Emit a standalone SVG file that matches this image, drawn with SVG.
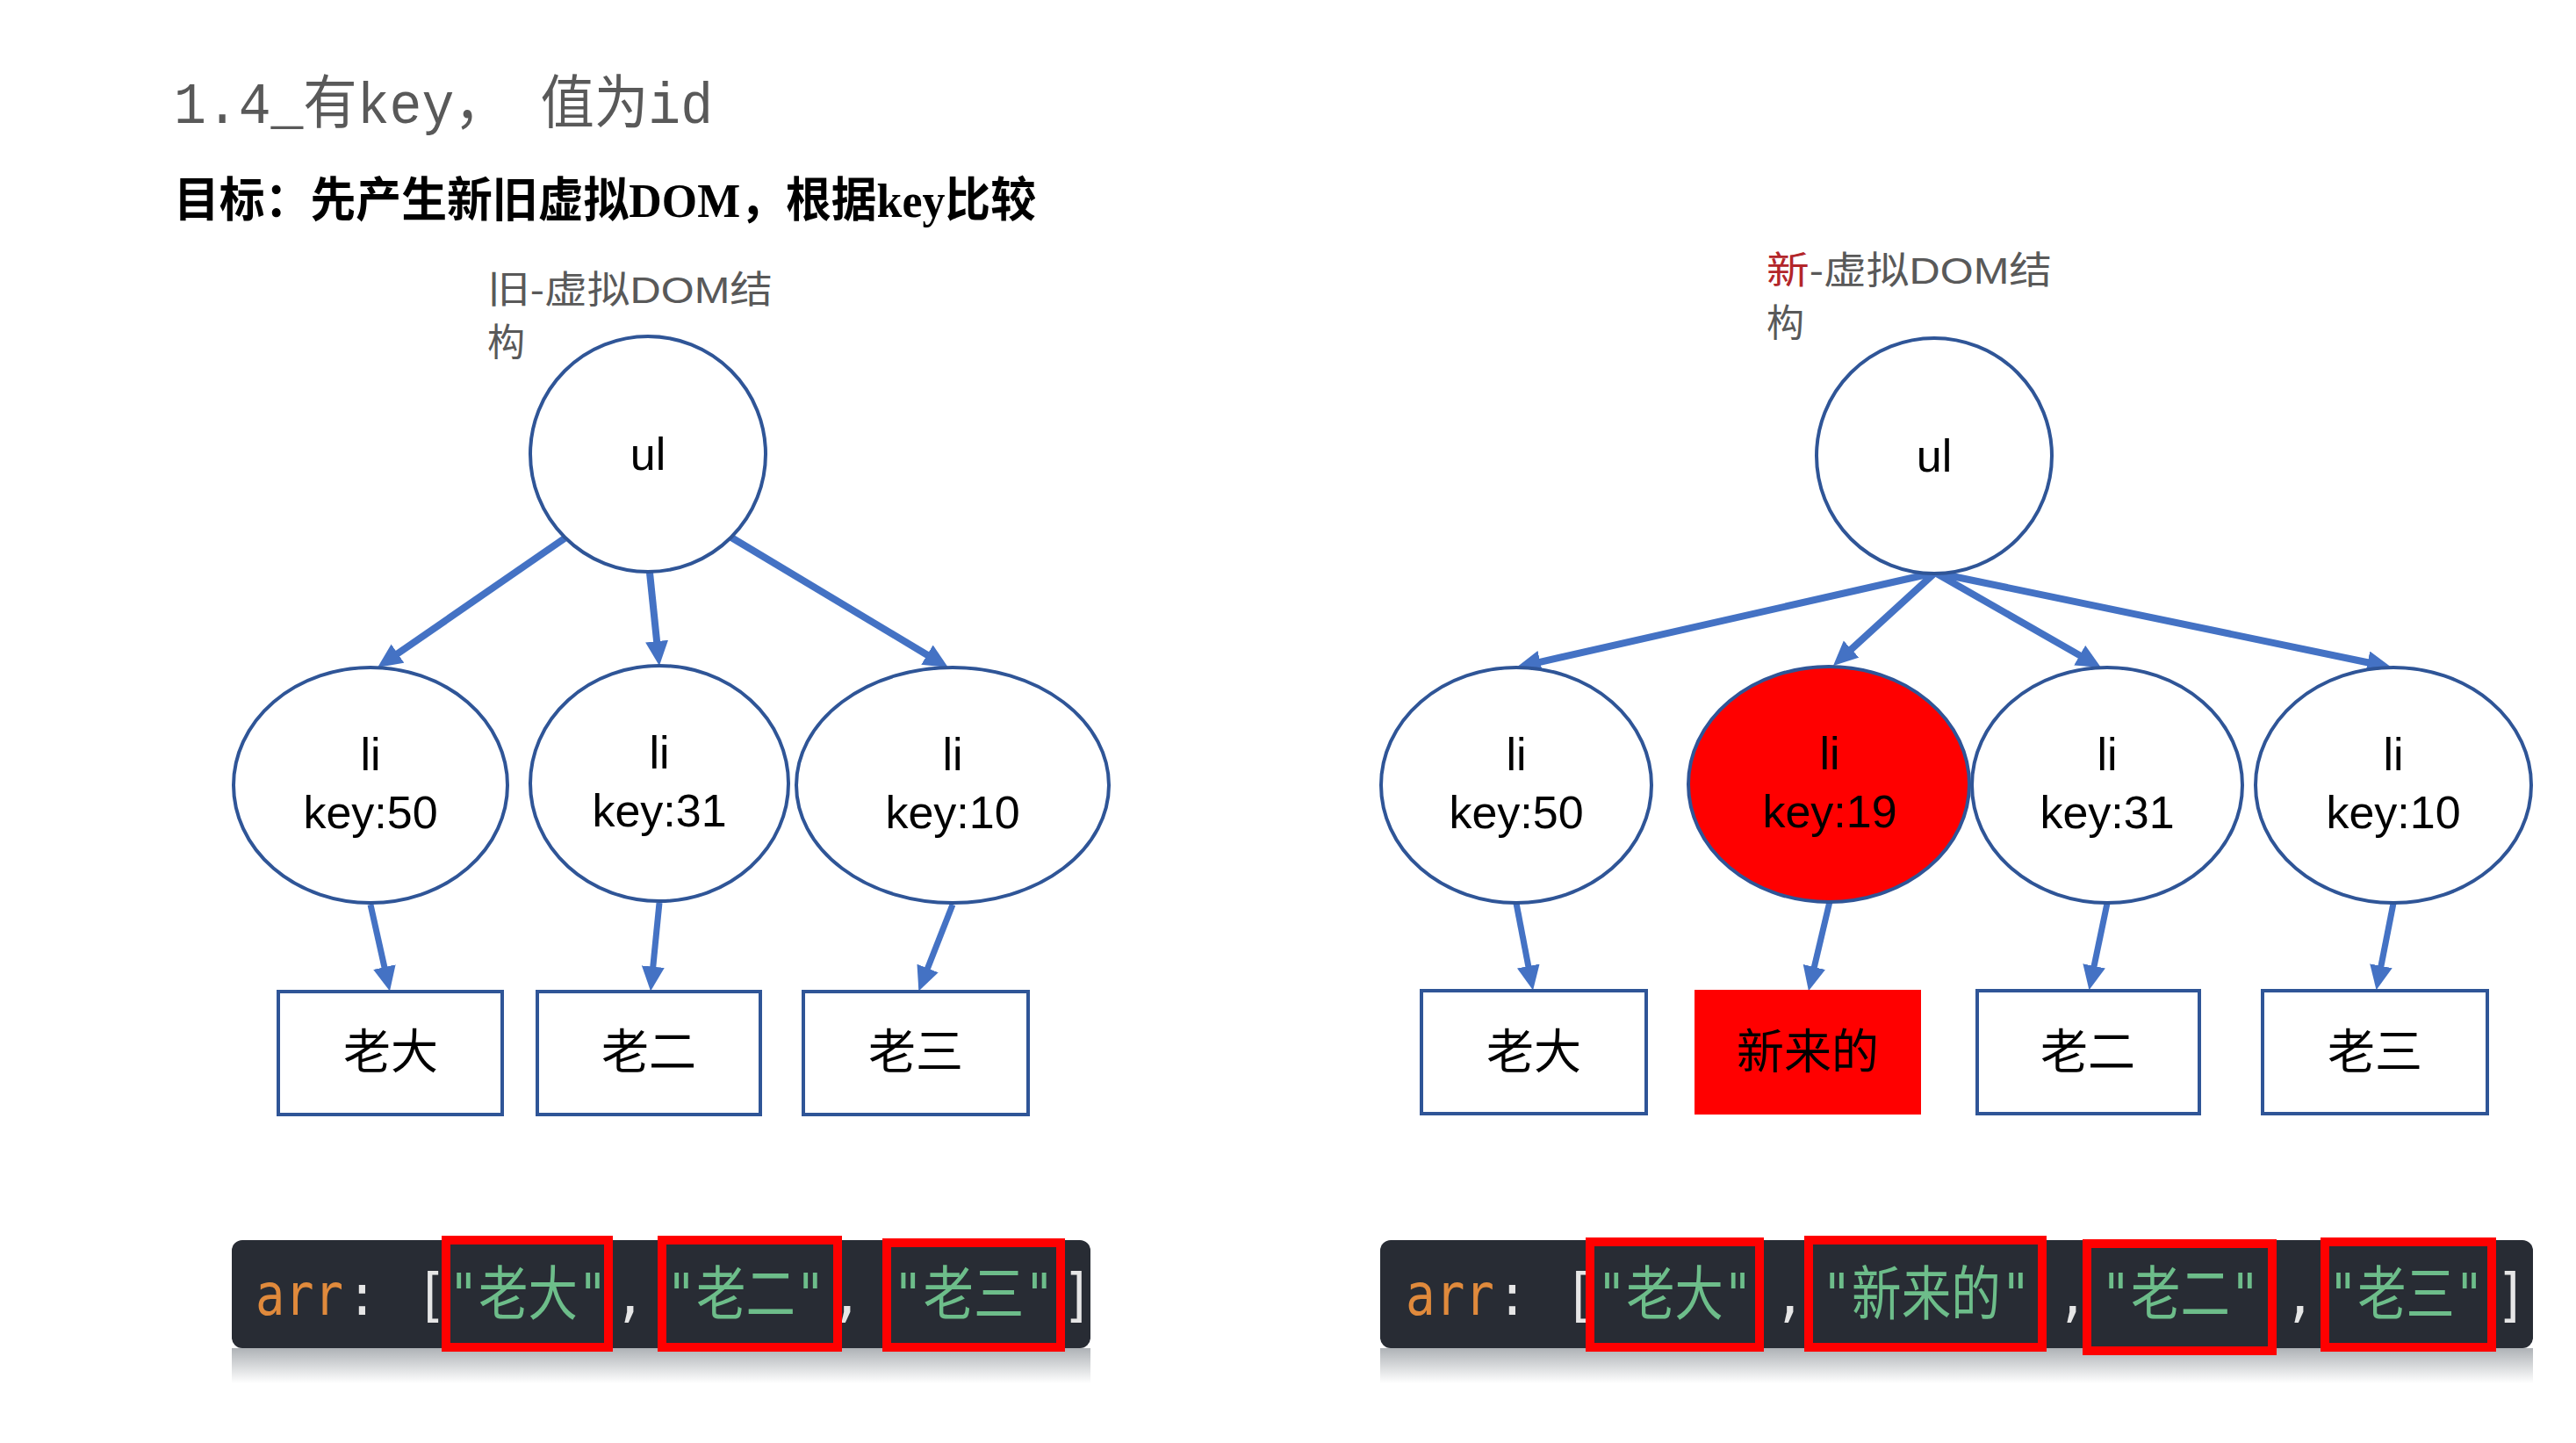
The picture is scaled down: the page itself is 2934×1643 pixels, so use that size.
<svg xmlns="http://www.w3.org/2000/svg" width="2934" height="1643" viewBox="0 0 2934 1643">
<defs>
<marker id="ah" markerUnits="userSpaceOnUse" markerWidth="30" markerHeight="28" refX="6" refY="13" orient="auto">
<path d="M0,0 L28,13 L0,26 z" fill="#4472C4"/>
</marker>
<linearGradient id="shadow" x1="0" y1="0" x2="0" y2="1">
<stop offset="0" stop-color="#aeb2b6"/>
<stop offset="1" stop-color="#ffffff"/>
</linearGradient>
<style>
.title{font-family:"Liberation Mono","Noto Sans CJK SC",monospace;font-size:66px;fill:#595959}
.sub{font-family:"Liberation Serif","Noto Sans CJK SC",serif;font-size:54px;font-weight:bold;fill:#000}
.lbl{font-family:"Liberation Sans","Noto Sans CJK SC",sans-serif;font-size:43px;fill:#595959}
.node{fill:#fff;stroke:#2F5597;stroke-width:4}
.nodered{fill:#FF0000;stroke:#2F5597;stroke-width:4}
.box{fill:#fff;stroke:#2F5597;stroke-width:4}
.boxred{fill:#FF0000;stroke:none}
.t{font-family:"Liberation Sans","Noto Sans CJK SC",sans-serif;font-size:52px;fill:#000;text-anchor:middle}
.tc{font-family:"Noto Sans CJK SC","Liberation Sans",sans-serif;font-size:54px;fill:#000;text-anchor:middle}
.edge{stroke:#4472C4;stroke-width:8;fill:none;marker-end:url(#ah)}
.edge2{stroke:#4472C4;stroke-width:7;fill:none;marker-end:url(#ah)}
.bar{fill:#282C34}
.code{font-family:"DejaVu Sans Mono","Noto Sans CJK SC",monospace;font-size:58px}
.kw{fill:#E08A3C}
.pl{fill:#E6E6E6}
.str{fill:#6DBD8A}
.hl{fill:none;stroke:#FF0000;stroke-width:10}
</style>
</defs>

<g id="title">
<text class="title" x="198" y="140" textLength="614" lengthAdjust="spacingAndGlyphs">1.4_有key， 值为id</text>
<text class="sub" x="198" y="247" textLength="982" lengthAdjust="spacingAndGlyphs">目标：先产生新旧虚拟DOM，根据key比较</text>
</g>

<g id="label-old">
<text class="lbl" x="555" y="345" textLength="325" lengthAdjust="spacingAndGlyphs">旧-虚拟DOM结</text>
<text class="lbl" x="555" y="405">构</text>
</g>
<g id="label-new">
<text class="lbl" x="2012" y="323" textLength="325" lengthAdjust="spacingAndGlyphs"><tspan fill="#B3262A">新</tspan>-虚拟DOM结</text>
<text class="lbl" x="2012" y="383">构</text>
</g>

<g id="connectors">
<line class="edge" x1="643" y1="613" x2="448.1" y2="747.5"/>
<line class="edge" x1="740" y1="652" x2="748.7" y2="736.1"/>
<line class="edge" x1="833" y1="612" x2="1061.1" y2="748.7"/>
<line class="edge2" x1="422" y1="1030" x2="439.2" y2="1107"/>
<line class="edge2" x1="751" y1="1028" x2="743.2" y2="1106.6"/>
<line class="edge2" x1="1085" y1="1030" x2="1054.4" y2="1108"/>
<line class="edge" x1="2204" y1="652" x2="1748.5" y2="755.1"/>
<line class="edge" x1="2204" y1="652" x2="2104.2" y2="743.2"/>
<line class="edge" x1="2204" y1="652" x2="2373.9" y2="749.1"/>
<line class="edge" x1="2204" y1="652" x2="2702.5" y2="755.5"/>
<line class="edge2" x1="1727" y1="1028.5" x2="1741.9" y2="1105.9"/>
<line class="edge2" x1="2084" y1="1026.5" x2="2065" y2="1106.9"/>
<line class="edge2" x1="2400" y1="1028.5" x2="2383.9" y2="1105.8"/>
<line class="edge2" x1="2726" y1="1028.5" x2="2710.8" y2="1105.7"/>
</g>

<g id="old-ul"><circle class="node" cx="738" cy="517" r="134"/><text class="t" x="738" y="535">ul</text></g>
<g id="old-li50"><ellipse class="node" cx="422" cy="894" rx="156" ry="134"/><text class="t" x="422" y="877">li</text><text class="t" x="422" y="943">key:50</text></g>
<g id="old-li31"><ellipse class="node" cx="751" cy="892" rx="147" ry="134"/><text class="t" x="751" y="875">li</text><text class="t" x="751" y="941">key:31</text></g>
<g id="old-li10"><ellipse class="node" cx="1085" cy="894" rx="178" ry="134"/><text class="t" x="1085" y="877">li</text><text class="t" x="1085" y="943">key:10</text></g>
<g id="old-b1"><rect class="box" x="317" y="1129" width="255" height="140"/><text class="tc" x="445" y="1217">老大</text></g>
<g id="old-b2"><rect class="box" x="612" y="1129" width="254" height="140"/><text class="tc" x="739" y="1217">老二</text></g>
<g id="old-b3"><rect class="box" x="915" y="1129" width="256" height="140"/><text class="tc" x="1043" y="1217">老三</text></g>

<g id="new-ul"><circle class="node" cx="2203" cy="519" r="134"/><text class="t" x="2203" y="537">ul</text></g>
<g id="new-li50"><ellipse class="node" cx="1727" cy="894" rx="154" ry="134"/><text class="t" x="1727" y="877">li</text><text class="t" x="1727" y="943">key:50</text></g>
<g id="new-li19"><ellipse class="nodered" cx="2083" cy="893" rx="160" ry="134"/><text class="t" x="2084" y="876">li</text><text class="t" x="2084" y="942">key:19</text></g>
<g id="new-li31"><ellipse class="node" cx="2400" cy="894" rx="154" ry="134"/><text class="t" x="2400" y="877">li</text><text class="t" x="2400" y="943">key:31</text></g>
<g id="new-li10"><ellipse class="node" cx="2726" cy="894" rx="157" ry="134"/><text class="t" x="2726" y="877">li</text><text class="t" x="2726" y="943">key:10</text></g>
<g id="new-b1"><rect class="box" x="1619" y="1128" width="256" height="140"/><text class="tc" x="1747" y="1217">老大</text></g>
<g id="new-b2"><rect class="boxred" x="1930" y="1127" width="258" height="142"/><text class="tc" x="2059" y="1217">新来的</text></g>
<g id="new-b3"><rect class="box" x="2252" y="1128" width="253" height="140"/><text class="tc" x="2378" y="1217">老二</text></g>
<g id="new-b4"><rect class="box" x="2577" y="1128" width="256" height="140"/><text class="tc" x="2705" y="1217">老三</text></g>

<g id="code-old">
<rect x="264" y="1535" width="978" height="40" fill="url(#shadow)"/>
<rect class="bar" x="264" y="1412" width="978" height="123" rx="12"/>
<g transform="translate(0 1497) scale(1 1.15) translate(0 -1497)">
<text class="code kw" x="291" y="1497" textLength="100" lengthAdjust="spacingAndGlyphs">arr</text>
<text class="code pl" x="395" y="1497">:</text>
<text class="code pl" x="474" y="1497">[</text>
<text class="code str" x="511" y="1497" textLength="181" lengthAdjust="spacingAndGlyphs">"老大"</text>
<text class="code pl" x="700" y="1497">,</text>
<text class="code str" x="759" y="1497" textLength="181" lengthAdjust="spacingAndGlyphs">"老二"</text>
<text class="code pl" x="947" y="1497">,</text>
<text class="code str" x="1017" y="1497" textLength="184" lengthAdjust="spacingAndGlyphs">"老三"</text>
<text class="code pl" x="1210" y="1497">]</text>
</g>
<rect class="hl" x="508" y="1412" width="185" height="122"/>
<rect class="hl" x="754" y="1412" width="200" height="122"/>
<rect class="hl" x="1010" y="1415" width="198" height="119"/>
</g>

<g id="code-new">
<rect x="1572" y="1535" width="1313" height="40" fill="url(#shadow)"/>
<rect class="bar" x="1572" y="1412" width="1313" height="123" rx="12"/>
<g transform="translate(0 1497) scale(1 1.15) translate(0 -1497)">
<text class="code kw" x="1601" y="1497" textLength="101" lengthAdjust="spacingAndGlyphs">arr</text>
<text class="code pl" x="1705" y="1497">:</text>
<text class="code pl" x="1782" y="1497">[</text>
<text class="code str" x="1819" y="1497" textLength="177" lengthAdjust="spacingAndGlyphs">"老大"</text>
<text class="code pl" x="2021" y="1497">,</text>
<text class="code str" x="2075" y="1497" textLength="238" lengthAdjust="spacingAndGlyphs">"新来的"</text>
<text class="code pl" x="2343" y="1497">,</text>
<text class="code str" x="2393" y="1497" textLength="181" lengthAdjust="spacingAndGlyphs">"老二"</text>
<text class="code pl" x="2602" y="1497">,</text>
<text class="code str" x="2652" y="1497" textLength="177" lengthAdjust="spacingAndGlyphs">"老三"</text>
<text class="code pl" x="2843" y="1497">]</text>
</g>
<rect class="hl" x="1811" y="1414" width="193" height="120"/>
<rect class="hl" x="2060" y="1412" width="266" height="122"/>
<rect class="hl" x="2377" y="1416" width="211" height="122"/>
<rect class="hl" x="2648" y="1414" width="190" height="120"/>
</g>
</svg>
